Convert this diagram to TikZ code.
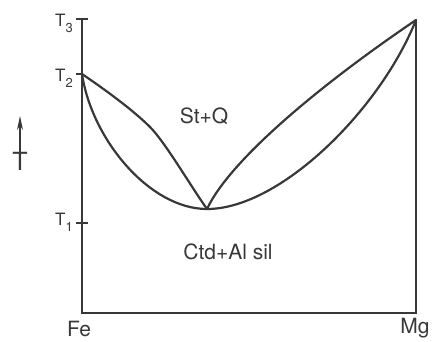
\documentclass[tikz,border=0pt]{standalone}
\usepackage{fontspec}
\setmainfont{TeX Gyre Heros}
\usetikzlibrary{arrows.meta}
\definecolor{ink}{gray}{0.22}
\tikzset{
  ax/.style={line width=1.3pt, draw=ink},
  crv/.style={line width=2.2pt, draw=ink, line join=round, line cap=round},
  lbl/.style={text=ink, inner sep=0pt, font=\fontsize{21}{21}\selectfont},
  tl/.style={text=ink, inner sep=0pt, font=\fontsize{17}{17}\selectfont},
}
\begin{document}
\begin{tikzpicture}[x=1pt,y=-1pt]
\useasboundingbox (0,0) rectangle (433,341);
% axes
\coordinate (tl) at (82,19);
\coordinate (bl) at (82,313);
\coordinate (br) at (416,313);
\coordinate (tr) at (416,20);
\coordinate (t2p) at (82,74);
\coordinate (mn) at (207,209);
\coordinate (bend) at (150,127);
\draw[ax] (tl) -- (bl) -- (br) -- (tr);
% ticks
\draw[ax] (76,19) -- (88,19);
\draw[ax] (76,74) -- (83,74);
\draw[ax] (76,223) -- (88,223);
% tick labels
\node[tl] (t3) at (64,23) {T\raisebox{-0.35em}{\fontsize{13}{13}\selectfont 3}};
\node[tl] (t2) at (64,78) {T\raisebox{-0.35em}{\fontsize{13}{13}\selectfont 2}};
\node[tl] (t1) at (64,222) {T\raisebox{-0.35em}{\fontsize{13}{13}\selectfont 1}};
% T axis arrow
\node[text=ink, inner sep=0pt, font=\fontsize{25}{25}\selectfont, anchor=north] (tt) at (20,152) {T};
\coordinate (atip) at (20,116);
\draw[line width=1.2pt, draw=ink, -{Stealth[length=14pt,width=6pt]}] (tt.north) -- (atip);
% curves
\draw[crv] (t2p) .. controls (110,93) and (135,112) .. (bend)
           .. controls (165,142) and (190,185) .. (mn);
\draw[crv] (mn) .. controls (230,160) and (320,85) .. (tr);
\draw[crv] (t2p) .. controls (92,140) and (150,209) .. (mn)
           .. controls (280,209) and (380,110) .. (tr);
% region labels
\node[lbl] (sq) at (204,116) {St+Q};
\node[lbl] (ca) at (228,252) {Ctd+Al sil};
\node[lbl] (fe) at (79,329) {Fe};
\node[lbl] (mg) at (415,328) {Mg};
\end{tikzpicture}
\end{document}
